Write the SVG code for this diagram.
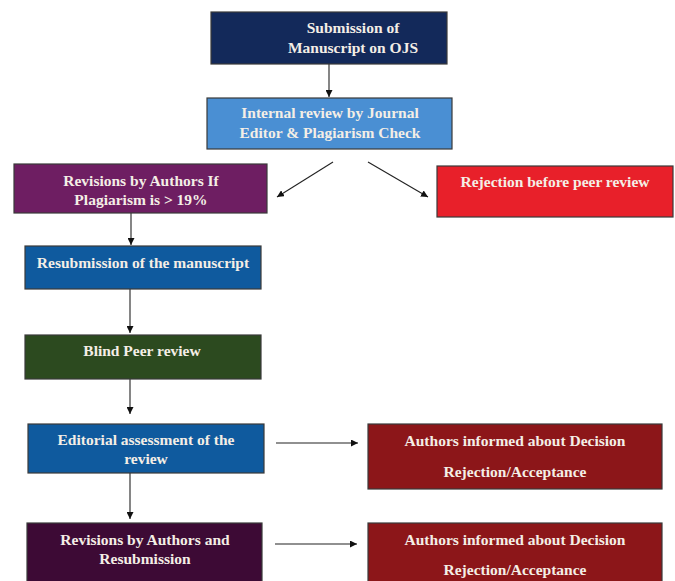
<svg xmlns="http://www.w3.org/2000/svg" width="675" height="581" viewBox="0 0 675 581">
<style>
.box{stroke:#3a3a3a;stroke-width:1.2}
.t{font-family:'Liberation Serif','DejaVu Serif',serif;font-weight:700;font-size:15.5px;fill:#f4eee6;text-anchor:middle}
.c{stroke:#222;stroke-width:1.1;fill:none;marker-end:url(#ah)}
</style>
<defs>
<marker id="ah" viewBox="0 0 10 10" refX="10" refY="5" markerWidth="7" markerHeight="7" markerUnits="userSpaceOnUse" orient="auto">
<path d="M0,0 L10,5 L0,10 Z" fill="#111"/>
</marker>
</defs>
<rect width="675" height="581" fill="#fff"/>
<g id="connectors">
<line class="c" x1="329" y1="64" x2="329" y2="97"/>
<line class="c" x1="333" y1="162" x2="277" y2="197"/>
<line class="c" x1="368" y1="162" x2="428" y2="197"/>
<line class="c" x1="131" y1="213" x2="131" y2="245"/>
<line class="c" x1="130" y1="289" x2="130" y2="333"/>
<line class="c" x1="130" y1="379" x2="130" y2="414"/>
<line class="c" x1="276" y1="443" x2="358" y2="443"/>
<line class="c" x1="130" y1="473" x2="130" y2="519"/>
<line class="c" x1="275" y1="544" x2="357" y2="544"/>
</g>
<g id="n1"><rect class="box" x="211" y="12" width="236" height="52" fill="#13295a"/>
<text class="t" x="353" y="33">Submission of</text><text class="t" x="353" y="53">Manuscript on OJS</text></g>
<g id="n2"><rect class="box" x="207" y="98" width="245" height="51" fill="#4a8fd3"/>
<text class="t" x="330" y="118">Internal review by Journal</text><text class="t" x="330" y="138">Editor &amp; Plagiarism Check</text></g>
<g id="n3"><rect class="box" x="14" y="164" width="253" height="49" fill="#6e1e62"/>
<text class="t" x="141" y="186">Revisions by Authors If</text><text class="t" x="141" y="205">Plagiarism is &gt; 19%</text></g>
<g id="n4"><rect class="box" x="437" y="166" width="236" height="51" fill="#e8202a"/>
<text class="t" x="555" y="187">Rejection before peer review</text></g>
<g id="n5"><rect class="box" x="25" y="246" width="236" height="43" fill="#0f5a9e"/>
<text class="t" x="143" y="268">Resubmission of the manuscript</text></g>
<g id="n6"><rect class="box" x="25" y="335" width="236" height="44" fill="#2c4a1f"/>
<text class="t" x="142" y="356">Blind Peer review</text></g>
<g id="n7"><rect class="box" x="28" y="424" width="236" height="49" fill="#0f5a9e"/>
<text class="t" x="146" y="445">Editorial assessment of the</text><text class="t" x="146" y="464">review</text></g>
<g id="n8"><rect class="box" x="368" y="424" width="294" height="65" fill="#8c1619"/>
<text class="t" x="515" y="446">Authors informed about Decision</text><text class="t" x="515" y="477">Rejection/Acceptance</text></g>
<g id="n9"><rect class="box" x="27" y="523" width="235" height="62" fill="#3d0a35"/>
<text class="t" x="145" y="545">Revisions by Authors and</text><text class="t" x="145" y="564">Resubmission</text></g>
<g id="n10"><rect class="box" x="368" y="523" width="294" height="62" fill="#8c1619"/>
<text class="t" x="515" y="545">Authors informed about Decision</text><text class="t" x="515" y="575">Rejection/Acceptance</text></g>
</svg>
